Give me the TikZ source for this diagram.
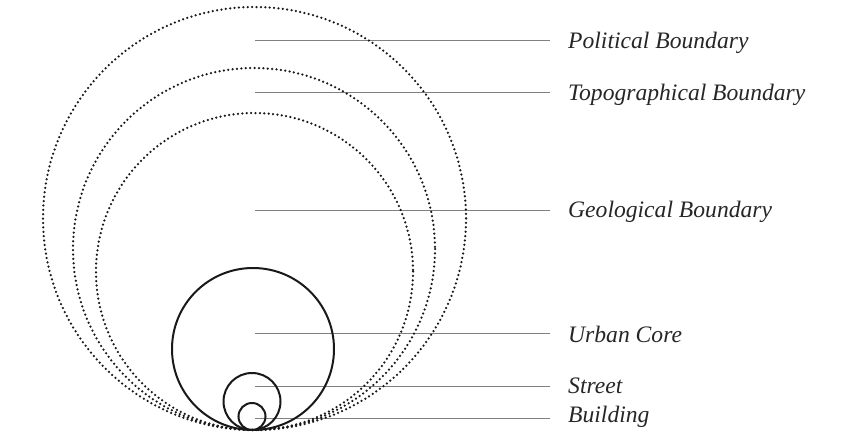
\documentclass[tikz,border=0pt]{standalone}
\usepackage{fontspec}
\newfontfamily\lblfont{Liberation Serif}[ItalicFont={Liberation Serif Italic}]
\begin{document}
\begin{tikzpicture}[x=1pt,y=-1pt,
  dotring/.style={draw=black!90, line width=2.5pt, line cap=round, dash pattern=on 0pt off 4.4pt},
  solidring/.style={draw=black!90, line width=2pt},
  leader/.style={draw=black!50, line width=0.9pt},
  lbl/.style={anchor=base west, inner sep=0pt, font=\lblfont\fontsize{23.6}{25}\selectfont\itshape, text=black!85}]
\useasboundingbox (0,0) rectangle (845,431);
% leader lines
\coordinate (p1) at (255,40);  \coordinate (q1) at (550,40);
\coordinate (p2) at (255,92);  \coordinate (q2) at (550,92);
\coordinate (p3) at (255,210); \coordinate (q3) at (550,210);
\coordinate (p4) at (255,333); \coordinate (q4) at (550,333);
\coordinate (p5) at (255,386); \coordinate (q5) at (550,386);
\coordinate (p6) at (255,418); \coordinate (q6) at (550,418);
\draw[leader] (p1) -- (q1);
\draw[leader] (p2) -- (q2);
\draw[leader] (p3) -- (q3);
\draw[leader] (p4) -- (q4);
\draw[leader] (p5) -- (q5);
\draw[leader] (p6) -- (q6);
% circles
\draw[dotring] (254.5,218.5) circle (211.5);
\draw[dotring] (254,249) circle (181);
\draw[dotring] (254.5,271.5) circle (158.5);
\draw[solidring] (253,349) circle (81);
\draw[solidring] (252,401.5) circle (28.5);
\draw[solidring] (252,416.5) circle (13.5);
% labels
\node[lbl] (l1) at (568,48) {Political Boundary};
\node[lbl] (l2) at (568,100) {Topographical Boundary};
\node[lbl] (l3) at (568,217) {Geological Boundary};
\node[lbl] (l4) at (568,342) {Urban Core};
\node[lbl] (l5) at (568,393) {Street};
\node[lbl] (l6) at (568,422) {Building};
\end{tikzpicture}
\end{document}
